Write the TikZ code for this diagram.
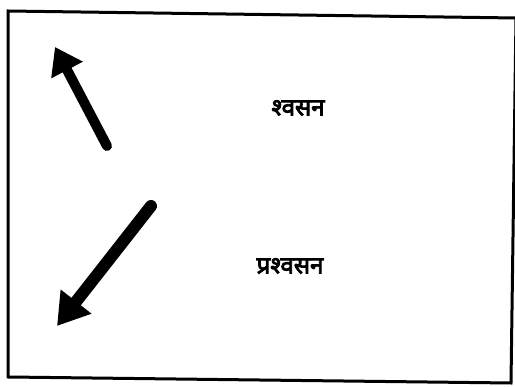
\documentclass[tikz,border=0pt]{standalone}
\usepackage{fontspec}
\newfontfamily\devfont[Script=Devanagari,FakeBold=3.5]{Noto Sans}
\usetikzlibrary{arrows.meta}
\begin{document}
\begin{tikzpicture}[x=1pt,y=-1pt,
  framestyle/.style={line width=3pt,line join=miter},
  bigarrow/.style={line width=#1,line cap=round},
  label/.style={font=\devfont\fontsize{24}{28}\selectfont,inner sep=0pt}]
\useasboundingbox (0,0) rectangle (515,387);
\coordinate (c1) at (8,11);
\coordinate (c2) at (516,18);
\coordinate (c3) at (511,383);
\coordinate (c4) at (8,377);
\draw[framestyle] (c1) -- (c2) -- (c3) -- (c4) -- cycle;
\coordinate (a1s) at (107,146);
\coordinate (a1e) at (55,47);
\coordinate (a2s) at (151,206);
\coordinate (a2e) at (57,326);
\draw[bigarrow=10pt,-{Triangle[length=26pt,width=34pt]}] (a1s) -- (a1e);
\draw[bigarrow=12pt,-{Triangle[length=31pt,width=37pt]}] (a2s) -- (a2e);
\node[label] (t1) at (298,108) {श्वसन};
\node[label] (t2) at (290,266) {प्रश्वसन};
\end{tikzpicture}
\end{document}
